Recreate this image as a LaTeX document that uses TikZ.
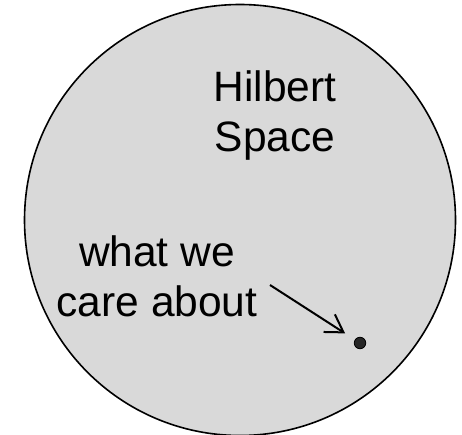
\documentclass[tikz,border=0pt]{standalone}
\usepackage{fontspec}
\setmainfont{Liberation Sans}
\usetikzlibrary{arrows.meta}
\tikzset{
  space/.style={draw=black, line width=1.6pt, fill=spacegray},
  label/.style={inner sep=0pt, align=center, font=\fontsize{42.5}{50}\selectfont},
  pointer/.style={line width=2pt, -{Straight Barb[length=17pt, width=21pt, line width=2pt]}},
  point/.style={circle, fill=black!85, draw=black, line width=0.8pt, minimum size=11.5pt, inner sep=0pt, outer sep=12pt}
}
\definecolor{spacegray}{HTML}{D9D9D9}
\begin{document}
\begin{tikzpicture}[x=1pt, y=-1pt]
\useasboundingbox (0,0) rectangle (462,435);
\fill[white] (0,0) rectangle (462,435);
\node[space, circle, minimum size=431pt, inner sep=0pt] (hs) at (240,220) {};
\node[label] (title) at (275,116) {Hilbert\\Space};
\node[label] (care) at (157,276.5) {what we\\care about};
\node[point] (p) at (360,343) {};
\coordinate (start) at (270,285);
\draw[pointer] (start) -- (p);
\end{tikzpicture}
\end{document}
